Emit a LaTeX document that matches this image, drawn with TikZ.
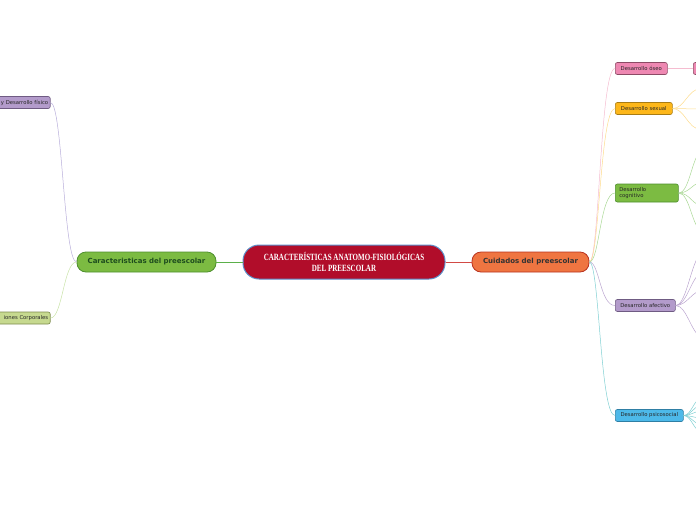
\documentclass[tikz,border=0pt]{standalone}
\usepackage{fontspec}
\newfontfamily\mapfont{DejaVu Sans}
\newfontfamily\titlefont[FakeStretch=0.74]{Liberation Serif}
\definecolor{titlered}{HTML}{B10D2A}
\definecolor{titleblue}{HTML}{5B8FC9}
\definecolor{greenfill}{HTML}{7CBB42}
\definecolor{greendraw}{HTML}{4E8F2E}
\definecolor{greentext}{HTML}{1E4D1E}
\definecolor{orangefill}{HTML}{EF7541}
\definecolor{orangedraw}{HTML}{B8321E}
\definecolor{linkgreen}{HTML}{5BB04A}
\definecolor{linkred}{HTML}{D24A45}
\definecolor{purplefill}{HTML}{B39BCB}
\definecolor{purpledraw}{HTML}{6F5B83}
\definecolor{purpleline}{HTML}{B8AEDA}
\definecolor{olivefill}{HTML}{C6D98F}
\definecolor{olivedraw}{HTML}{7D8C4D}
\definecolor{oliveline}{HTML}{C9E3A8}
\definecolor{pinkfill}{HTML}{EE88B2}
\definecolor{pinkdraw}{HTML}{8C4B65}
\definecolor{pinkline}{HTML}{F5BCD0}
\definecolor{yellowfill}{HTML}{FDB71A}
\definecolor{yellowdraw}{HTML}{A87C14}
\definecolor{yellowline}{HTML}{FDDC8E}
\definecolor{cogline}{HTML}{A9D895}
\definecolor{affline}{HTML}{BBA5CF}
\definecolor{psyfill}{HTML}{4DB9E9}
\definecolor{psydraw}{HTML}{2F7FA5}
\definecolor{psyline}{HTML}{7FCFD2}
\tikzset{
    central/.style={draw=titleblue, line width=1pt, fill=titlered, rounded corners=16pt,
        minimum width=202pt, minimum height=34pt, align=center, text=white,
        font=\titlefont\bfseries\fontsize{9.5}{11}\selectfont},
    branch/.style={line width=0.8pt, rounded corners=9pt, minimum height=20pt,
        font=\mapfont\bfseries\fontsize{7}{8}\selectfont},
    subbox/.style={line width=0.6pt, rounded corners=2pt, minimum height=12pt, inner sep=2pt,
        font=\mapfont\fontsize{5.3}{6.4}\selectfont, text=black!85},
    twig/.style={line width=0.5pt}
}
\begin{document}
\begin{tikzpicture}[x=1pt,y=-1pt]
    \useasboundingbox (0,0) rectangle (696,520);
    % centre and main branches
    \node[central] (title) at (344,262) {CARACTERÍSTICAS ANATOMO-FISIOLÓGICAS\\DEL PREESCOLAR};
    \node[branch, fill=greenfill, draw=greendraw, text=greentext, minimum width=139pt] (caract) at (146.5,262) {Caracteristicas del preescolar};
    \node[branch, fill=orangefill, draw=orangedraw, text=black!80, minimum width=117pt] (cuidados) at (530.5,262) {Cuidados del preescolar};
    \draw[linkgreen, line width=1pt] (title) -- (caract);
    \draw[linkred, line width=1pt] (title) -- (cuidados);
    % left side
    \node[subbox, fill=purplefill, draw=purpledraw, text width=64pt, align=right, anchor=east] (fisico) at (50.5,102.5) {y Desarrollo físico};
    \node[subbox, fill=olivefill, draw=olivedraw, text width=64pt, align=right, anchor=east] (corporales) at (50.5,318) {iones Corporales};
    \draw[twig, purpleline] (caract.west) .. controls +(-13,0) and +(12,0) .. (fisico.east);
    \draw[twig, oliveline] (caract.west) .. controls +(-13,0) and +(12,0) .. (corporales.east);
    % right side
    \node[subbox, fill=pinkfill, draw=pinkdraw, minimum width=52pt, anchor=west] (oseo) at (615,68.5) {Desarrollo óseo};
    \node[subbox, fill=pinkfill, draw=pinkdraw, minimum width=30pt, anchor=west] (oseochild) at (693,68.5) {};
    \node[subbox, fill=yellowfill, draw=yellowdraw, minimum width=57pt, anchor=west] (sexual) at (615,108.5) {Desarrollo sexual};
    \node[subbox, fill=greenfill, draw=greendraw, minimum width=63pt, minimum height=18pt, text width=55pt, align=left, anchor=west] (cognitivo) at (615,193) {Desarrollo\\cognitivo};
    \node[subbox, fill=purplefill, draw=purpledraw, minimum width=60pt, anchor=west] (afectivo) at (615,305.5) {Desarrollo afectivo};
    \node[subbox, fill=psyfill, draw=psydraw, minimum width=68pt, anchor=west] (psicosocial) at (615,415.5) {Desarrollo psicosocial};
    \draw[twig, pinkline] (cuidados.east) .. controls +(10,0) and +(-15,0) .. (oseo.west);
    \draw[twig, yellowline] (cuidados.east) .. controls +(10,0) and +(-15,0) .. (sexual.west);
    \draw[twig, cogline] (cuidados.east) .. controls +(10,0) and +(-15,0) .. (cognitivo.west);
    \draw[twig, affline] (cuidados.east) .. controls +(10,0) and +(-15,0) .. (afectivo.west);
    \draw[twig, psyline] (cuidados.east) .. controls +(10,0) and +(-15,0) .. (psicosocial.west);
    \draw[twig, pinkline] (oseo) -- (oseochild);
    % fans running off the right edge
    \foreach \y/\n in {89/1,109/2,129/3}
        \coordinate (sx\n) at (700,\y);
    \foreach \y/\n in {150/1,182/2,206/3,232/4}
        \coordinate (cg\n) at (704,\y);
    \foreach \y/\n in {252/1,272/2,290/3,338/4}
        \coordinate (af\n) at (704,\y);
    \foreach \y/\n in {398/1,405/2,411/3,418/4,425/5,432/6}
        \coordinate (ps\n) at (702,\y);
    \foreach \n in {1,2,3}
        \draw[twig, yellowline] (sexual.east) .. controls +(12,0) and +(-12,0) .. (sx\n);
    \foreach \n in {1,...,4}
        \draw[twig, cogline] (cognitivo.east) .. controls +(12,0) and +(-12,0) .. (cg\n);
    \foreach \n in {1,...,4}
        \draw[twig, affline] (afectivo.east) .. controls +(12,0) and +(-12,0) .. (af\n);
    \foreach \n in {1,...,6}
        \draw[twig, psyline] (psicosocial.east) .. controls +(8,0) and +(-8,0) .. (ps\n);
\end{tikzpicture}
\end{document}
